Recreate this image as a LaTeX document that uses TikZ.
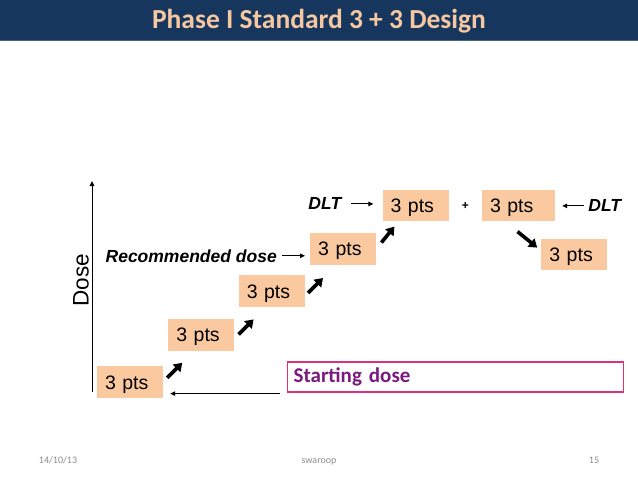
\documentclass[tikz,border=0pt]{standalone}
\usepackage{fontspec}
\setmainfont{Liberation Sans}
\newfontfamily\calibri{Carlito}
\usetikzlibrary{arrows.meta,positioning,calc}
\definecolor{cbar}{HTML}{17365D}
\definecolor{cbarline}{HTML}{4A6482}
\definecolor{ctitle}{HTML}{F6C8A2}
\definecolor{cbox}{HTML}{FAC9A0}
\definecolor{cframe}{HTML}{E0307A}
\definecolor{cstart}{HTML}{7B1A7E}
\definecolor{cfoot}{HTML}{8C8C8C}

\begin{document}
\begin{tikzpicture}[
    x=1pt, y=-1pt,
    ptsbox/.style={
        fill=cbox, inner xsep=8pt, inner ysep=0pt,
        text width=50pt, align=left,
        minimum height=32pt, text height=16pt, text depth=2pt,
        font=\fontsize{19.5}{22}\selectfont,
    },
    lbl/.style={inner sep=0pt, font=\fontsize{17.5}{20}\selectfont\bfseries\itshape},
    thinarrow/.style={-{Triangle[length=5pt,width=4.5pt]},line width=1pt},
    thickarrow/.style={-{Triangle[length=8pt,width=10.5pt]},line width=3.6pt},
    footer/.style={font=\calibri\fontsize{10}{12}\selectfont,text=cfoot,anchor=base},
]
\useasboundingbox (0,0) rectangle (638,479);

% ============================================================
% TITLE BAR
% ============================================================
\fill[cbar] (0,0) rectangle (638,40);
\draw[cbarline,line width=1pt] (0,40.5) -- (638,40.5);
\node[font=\calibri\bfseries\fontsize{27.5}{30}\selectfont,text=ctitle,anchor=base] (title) at (319,28)
    {Phase I Standard 3 + 3 Design};

% ============================================================
% DOSE AXIS
% ============================================================
\coordinate (ybot) at (92,392);
\coordinate (ytop) at (92,181);
\draw[thinarrow] (ybot) -- (ytop);
\node[rotate=90,font=\fontsize{22.5}{24}\selectfont] (dose) at (81,280) {Dose};

% ============================================================
% DOSE LEVELS
% ============================================================
\node[ptsbox] (b1) at (130,382) {3 pts};
\node[ptsbox, above right=15pt and 5pt of b1] (b2) {3 pts};
\node[ptsbox, above right=11pt and 4pt of b2] (b3) {3 pts};
\node[ptsbox, above right=10pt and 5pt of b3] (b4) {3 pts};
\node[ptsbox, above right=11pt and 6pt of b4, minimum height=31pt] (b5) {3 pts};
\node[ptsbox, right=33pt of b5, text width=57pt, minimum height=31pt] (b6) {3 pts};
\node[ptsbox, below right=17pt and -14pt of b6, minimum height=31pt] (b7) {3 pts};

% Escalation arrows
\draw[thickarrow] ($(b1.north east)+(4,12)$) -- ($(b2.south west)+(14,12)$);
\draw[thickarrow] ($(b2.north east)+(4,16)$) -- ($(b3.south west)+(15,12)$);
\draw[thickarrow] ($(b3.north east)+(3,18)$) -- ($(b4.south west)+(13,13)$);
\draw[thickarrow] ($(b4.north east)+(5,10)$) -- ($(b5.south west)+(12,5)$);
\draw[thickarrow] ($(b6.south)+(-1,10)$) -- ($(b7.north west)+(-4,9)$);

\node[font=\bfseries\fontsize{12}{12}\selectfont] (plus) at ($(b5.east)!0.5!(b6.west)$) {+};

% ============================================================
% LABELS
% ============================================================
\node[lbl, left=41pt of b5, yshift=2pt] (dltl) {DLT};
\draw[thinarrow, shorten <=10pt, shorten >=9pt] (dltl.east) -- (dltl.east -| b5.west);

\node[lbl, left=33pt of b4, yshift=-7pt] (rec) {Recommended dose};
\draw[thinarrow, shorten <=5pt, shorten >=5pt] (rec.east) -- (rec.east -| b4.west);

\node[lbl, right=33pt of b6] (dltr) {DLT};
\draw[thinarrow, shorten <=4pt, shorten >=7pt] (dltr.west) -- (dltr.west -| b6.east);

% Starting dose
\node[draw=cframe, line width=1.2pt, fill=white, anchor=west,
    minimum width=336pt, minimum height=30pt, inner xsep=6pt, inner ysep=0pt,
    text width=324pt, align=left, text=cstart,
    font=\calibri\bfseries\fontsize{21}{23}\selectfont] (start) at (287,377) {Starting dose};
\draw[thinarrow, shorten <=7pt, shorten >=7pt] ([yshift=-1pt]start.south west) -- ([yshift=-1pt]start.south west -| b1.east);

% ============================================================
% FOOTER
% ============================================================
\node[footer] (fdate) at (58,463) {14/10/13};
\node[footer] (fname) at (319,463) {swaroop};
\node[footer] (fpage) at (594,463) {15};

\end{tikzpicture}
\end{document}
